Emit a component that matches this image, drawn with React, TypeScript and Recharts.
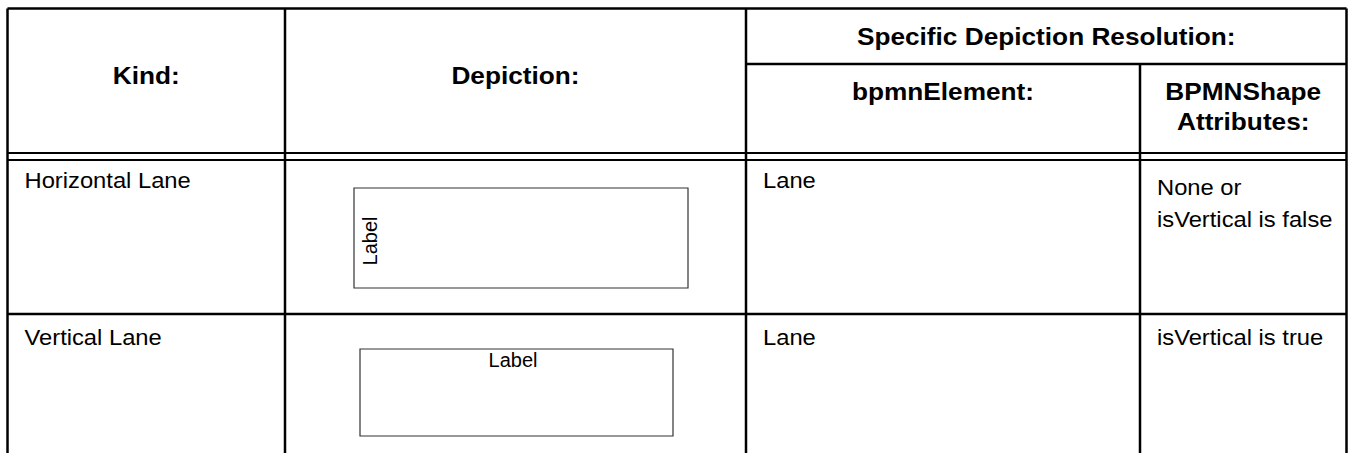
import { ReferenceArea, ReferenceLine, Scatter, ScatterChart, XAxis, YAxis } from "recharts"

// table content
const headerCols = ["Kind:", "Depiction:"]
const groupHeader = "Specific Depiction Resolution:"
const subHeaders = [["bpmnElement:"], ["BPMNShape", "Attributes:"]]
const kinds = ["Horizontal Lane", "Vertical Lane"]
const bpmnElements = ["Lane", "Lane"]
const shapeAttributes = [["None or", "isVertical is false"], ["isVertical is true"]]
const depictionLabels = ["Label", "Label"]

// layout (pixels, mapped 1:1 through the hidden axes)
const W = 1354
const H = 453
const colX = [7.5, 285, 746, 1140, 1346.5]
const topY = 8.5
const subY = 64
const dblY = [153, 160]
const rowSepY = 314
const rowTextY = [188, 345]
const attrTextY = [195, 345]
const attrLineGap = 32
const subHeadGap = 30
const pad = 17
const depictionBoxes = [
  { x1: 354, x2: 688, y1: 188, y2: 288 },
  { x1: 360, x2: 673, y1: 349, y2: 436 },
]
const labelPos = [
  { x: 377, y: 241, rotate: true },
  { x: 513, y: 367, rotate: false },
]

const textStyles: Record<string, { size: number; weight: string; sx: number }> = {
  head: { size: 23, weight: "bold", sx: 1.14 },
  body: { size: 22, weight: "normal", sx: 1.08 },
  label: { size: 20, weight: "normal", sx: 1 },
}

const mid = (a: number, b: number) => (a + b) / 2

const headerMarks = [
  { x: mid(colX[0], colX[1]), y: 84, text: headerCols[0], style: "head", anchor: "middle" },
  { x: mid(colX[1], colX[2]), y: 84, text: headerCols[1], style: "head", anchor: "middle" },
  { x: mid(colX[2], colX[4]), y: 45, text: groupHeader, style: "head", anchor: "middle" },
  ...subHeaders.flatMap((lines, c) =>
    lines.map((t, i) => ({
      x: mid(colX[2 + c], colX[3 + c]),
      y: 100 + i * subHeadGap,
      text: t,
      style: "head",
      anchor: "middle",
    }))
  ),
]

const bodyMarks = kinds.flatMap((k, r) => [
  { x: colX[0] + pad, y: rowTextY[r], text: k, style: "body", anchor: "start" },
  { x: colX[2] + pad, y: rowTextY[r], text: bpmnElements[r], style: "body", anchor: "start" },
  ...shapeAttributes[r].map((t, i) => ({
    x: colX[3] + pad,
    y: attrTextY[r] + i * attrLineGap,
    text: t,
    style: "body",
    anchor: "start",
  })),
])

const labelMarks = depictionLabels.map((t, i) => ({
  x: labelPos[i].x,
  y: labelPos[i].y,
  text: t,
  style: "label",
  anchor: "middle",
  rotate: labelPos[i].rotate,
}))

const hLines = [
  { y: topY, x1: colX[0], x2: colX[4], w: 2.5 },
  { y: subY, x1: colX[2], x2: colX[4], w: 2.5 },
  { y: dblY[0], x1: colX[0], x2: colX[4], w: 2 },
  { y: dblY[1], x1: colX[0], x2: colX[4], w: 2 },
  { y: rowSepY, x1: colX[0], x2: colX[4], w: 2.5 },
]
const vLines = [
  { x: colX[0], y1: topY, y2: H },
  { x: colX[1], y1: topY, y2: H },
  { x: colX[2], y1: topY, y2: H },
  { x: colX[3], y1: subY, y2: H },
  { x: colX[4], y1: topY, y2: H },
]

function CellText(props: any) {
  const { cx, cy, payload } = props
  const st = textStyles[payload.style]
  const rot = payload.rotate ? " rotate(-90)" : ""
  return (
    <text
      transform={`translate(${cx},${cy})${rot} scale(${st.sx},1)`}
      textAnchor={payload.anchor}
      fontFamily="'Liberation Sans', Arial, sans-serif"
      fontSize={st.size}
      fontWeight={st.weight}
      fill="#000"
    >
      {payload.text}
    </text>
  )
}

export default function App() {
  return (
    <div style={{ position: "absolute", left: 0, top: 0, width: W, height: H, background: "#fff" }}>
      <ScatterChart width={W} height={H} margin={{ top: 0, right: 0, bottom: 0, left: 0 }}>
        <XAxis type="number" dataKey="x" domain={[0, W]} allowDataOverflow hide />
        <YAxis type="number" dataKey="y" domain={[0, H]} allowDataOverflow reversed hide />
        {depictionBoxes.map((b, i) => (
          <ReferenceArea
            key={`box${i}`}
            x1={b.x1}
            x2={b.x2}
            y1={b.y1}
            y2={b.y2}
            fill="none"
            fillOpacity={0}
            stroke="#333"
            strokeWidth={1.2}
            ifOverflow="visible"
          />
        ))}
        {hLines.map((l, i) => (
          <ReferenceLine
            key={`h${i}`}
            segment={[
              { x: l.x1, y: l.y },
              { x: l.x2, y: l.y },
            ]}
            stroke="#000"
            strokeWidth={l.w}
            ifOverflow="visible"
          />
        ))}
        {vLines.map((l, i) => (
          <ReferenceLine
            key={`v${i}`}
            segment={[
              { x: l.x, y: l.y1 },
              { x: l.x, y: l.y2 },
            ]}
            stroke="#000"
            strokeWidth={2.5}
            ifOverflow="visible"
          />
        ))}
        <Scatter name="header" data={headerMarks} shape={CellText} isAnimationActive={false} />
        <Scatter name="body" data={bodyMarks} shape={CellText} isAnimationActive={false} />
        <Scatter name="labels" data={labelMarks} shape={CellText} isAnimationActive={false} />
      </ScatterChart>
    </div>
  )
}
